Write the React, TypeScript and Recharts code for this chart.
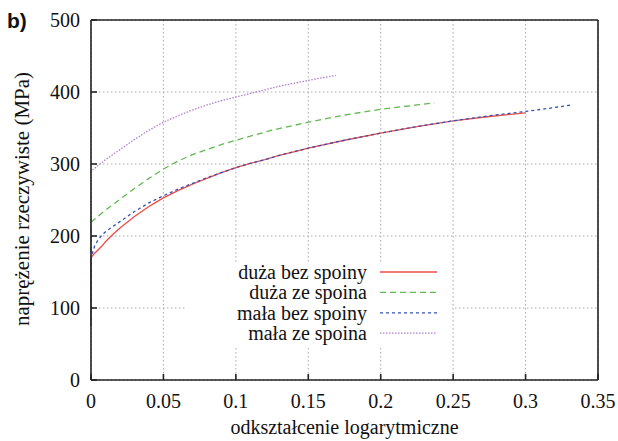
import { LineChart, Line, XAxis, YAxis, CartesianGrid, Legend } from 'recharts';

const SERIF = '"Liberation Serif", "DejaVu Serif", serif';

const xTicks = [0, 0.05, 0.1, 0.15, 0.2, 0.25, 0.3, 0.35];
const yTicks = [0, 100, 200, 300, 400, 500];

// strain (logarithmic), true stress (MPa)
const largeNoWeld = [
  [0, 80], [0, 170], [0.0025, 176], [0.005, 181], [0.0075, 186], [0.01, 192], [0.015, 202],
  [0.02, 211], [0.025, 219], [0.03, 227], [0.035, 234], [0.04, 241], [0.045, 247], [0.05, 253],
  [0.06, 263], [0.07, 272], [0.08, 280], [0.09, 288], [0.1, 295], [0.11, 301], [0.12, 306],
  [0.13, 312], [0.14, 317], [0.15, 322], [0.175, 333], [0.2, 343], [0.225, 352], [0.25, 360],
  [0.275, 366], [0.3, 371],
];
const largeWeld = [
  [0, 80], [0, 219], [0.01, 236], [0.02, 251], [0.03, 266], [0.04, 280], [0.05, 293],
  [0.06, 304], [0.07, 313], [0.08, 320], [0.09, 327], [0.1, 333], [0.125, 347], [0.15, 358],
  [0.175, 368], [0.2, 376], [0.225, 382], [0.237, 385],
];
const smallNoWeld = [
  [0, 75], [0, 170], [0.0025, 186], [0.005, 195], [0.0075, 201], [0.01, 206], [0.015, 213],
  [0.02, 220], [0.025, 227], [0.03, 234], [0.035, 240], [0.04, 246], [0.045, 251], [0.05, 256],
  [0.06, 265], [0.07, 273], [0.08, 281], [0.09, 288], [0.1, 295], [0.11, 301], [0.12, 306],
  [0.13, 312], [0.14, 317], [0.15, 322], [0.175, 333], [0.2, 343], [0.225, 352], [0.25, 360],
  [0.275, 367], [0.3, 373], [0.315, 377], [0.332, 382],
];
const smallWeld = [
  [0, 80], [0, 290], [0.005, 298], [0.01, 306], [0.015, 313], [0.02, 320], [0.025, 327],
  [0.03, 334], [0.04, 347], [0.05, 358], [0.06, 367], [0.07, 375], [0.08, 382], [0.09, 388],
  [0.1, 393], [0.11, 398], [0.12, 403], [0.13, 408], [0.14, 412], [0.15, 416], [0.16, 420],
  [0.169, 423],
];

const names = ['duża bez spoiny', 'duża ze spoina', 'mała bez spoiny', 'mała ze spoina'];
const curves = [largeNoWeld, largeWeld, smallNoWeld, smallWeld];

const styles = [
  { color: '#ee4c44', dash: undefined },
  { color: '#62b852', dash: '6 4' },
  { color: '#3552b8', dash: '3 3' },
  { color: '#b17ed2', dash: '1.5 1.5' },
];

const toPoints = (arr: number[][]) => arr.map(([x, y]) => ({ x, y }));

const LegendBox = () => (
  <svg width={266} height={84} style={{ display: 'block', background: '#fff' }}>
    {names.map((n, i) => {
      const cy = 10 + i * 20.4;
      return (
        <g key={n}>
          <text x={181} y={cy} dy="0.35em" textAnchor="end" fontFamily={SERIF} fontSize={20} fill="#111">
            {n}
          </text>
          <line x1={194} x2={251} y1={cy} y2={cy} stroke={styles[i].color} strokeWidth={1.3} strokeDasharray={styles[i].dash} />
        </g>
      );
    })}
  </svg>
);

const tickStyle = { fontFamily: SERIF, fontSize: 20, fill: '#111' };
const axisLine = { stroke: '#222', strokeWidth: 1.6 };
const tickLine = { stroke: '#222', strokeWidth: 1.6 };

export default function App() {
  return (
    <div style={{ position: 'absolute', left: 0, top: 0, width: 618, height: 441, background: '#fff' }}>
      <div style={{ position: 'absolute', left: 7, top: 9, fontFamily: '"Liberation Sans", Arial, sans-serif', fontWeight: 700, fontSize: 21, lineHeight: '24px', color: '#111', zIndex: 2 }}>
        b)
      </div>
      <LineChart width={618} height={441} margin={{ top: 0, right: 0, bottom: 0, left: 0 }}>
        <CartesianGrid stroke="#aaa" strokeDasharray="1.5 2.5" strokeWidth={1} />
        <XAxis
          dataKey="x"
          type="number"
          domain={[0, 0.35]}
          ticks={xTicks}
          height={61}
          tickSize={-6}
          tickMargin={20}
          tick={tickStyle}
          axisLine={axisLine}
          tickLine={tickLine}
          label={({ viewBox }: any) => (
            <text x={viewBox.x + viewBox.width / 2} y={434} textAnchor="middle" fontFamily={SERIF} fontSize={20} fill="#111">
              odkształcenie logarytmiczne
            </text>
          )}
        />
        <XAxis
          xAxisId="top"
          orientation="top"
          type="number"
          domain={[0, 0.35]}
          ticks={xTicks}
          height={20}
          tickSize={-6}
          tickFormatter={() => ''}
          axisLine={axisLine}
          tickLine={tickLine}
        />
        <YAxis
          type="number"
          domain={[0, 500]}
          ticks={yTicks}
          width={91}
          tickSize={-6}
          tickMargin={17}
          tick={tickStyle}
          axisLine={axisLine}
          tickLine={tickLine}
          label={({ viewBox }: any) => (
            <text x={22} y={viewBox.y + viewBox.height / 2 - 1} textAnchor="middle" dominantBaseline="central" transform={`rotate(-90 22 ${viewBox.y + viewBox.height / 2 - 1})`} fontFamily={SERIF} fontSize={21} fill="#111">
              naprężenie rzeczywiste (MPa)
            </text>
          )}
        />
        <YAxis
          yAxisId="right"
          orientation="right"
          type="number"
          domain={[0, 500]}
          ticks={yTicks}
          width={20}
          tickSize={-6}
          tickFormatter={() => ''}
          axisLine={axisLine}
          tickLine={tickLine}
        />
        <Legend
          layout="vertical"
          align="center"
          verticalAlign="middle"
          content={() => <LegendBox />}
          wrapperStyle={{ left: 186, top: 262, width: 266, height: 84 }}
        />
        {curves.map((c, i) => (
          <Line
            key={names[i]}
            name={names[i]}
            data={toPoints(c)}
            dataKey="y"
            type="linear"
            stroke={styles[i].color}
            strokeWidth={1.3}
            strokeDasharray={styles[i].dash}
            dot={false}
            activeDot={false}
            isAnimationActive={false}
          />
        ))}
      </LineChart>
    </div>
  );
}
